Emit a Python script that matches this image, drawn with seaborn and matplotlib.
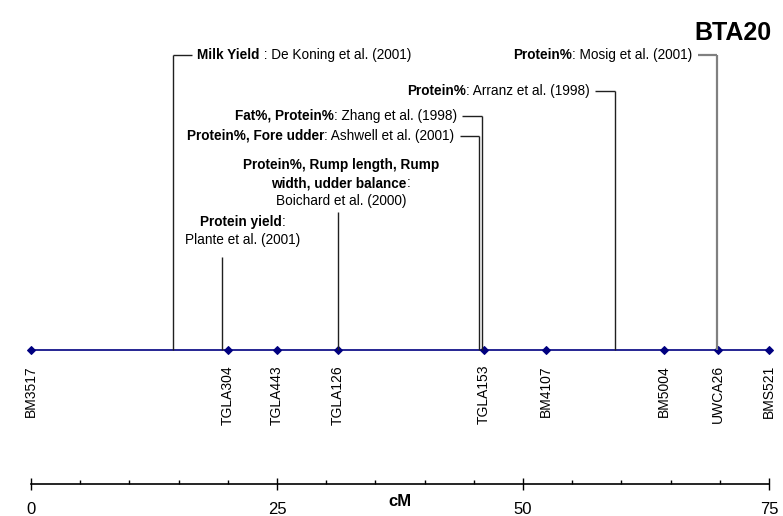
import textwrap

import matplotlib
matplotlib.use("Agg")
import matplotlib.pyplot as plt
import numpy as np
import pandas as pd
import seaborn as sns
from matplotlib.offsetbox import AnnotationBbox, HPacker, TextArea

# Microsatellite markers on the BTA20 linkage map (position in cM)
markers = ["BM3517", "TGLA304", "TGLA443", "TGLA126", "TGLA153",
           "BM4107", "BM5004", "UWCA26", "BMS521"]
marker_cM = [0.0, 20.0, 25.0, 31.2, 46.0, 52.3, 64.3, 69.8, 75.0]

# Reported QTL: trait(s), reference and map position (cM)
qtl_traits = ["Milk Yield", "Protein yield",
              "Protein%, Rump length, Rump width, udder balance",
              "Protein%, Fore udder", "Fat%, Protein%", "Protein%", "Protein%"]
qtl_refs = ["De Koning et al. (2001)", "Plante et al. (2001)",
            "Boichard et al. (2000)", "Ashwell et al. (2001)",
            "Zhang et al. (1998)", "Arranz et al. (1998)", "Mosig et al. (2001)"]
qtl_seps = [" : ", ": ", ": ", ": ", ": ", ": ", ": "]
qtl_cM = [14.4, 19.4, 31.2, 45.5, 45.8, 59.3, 69.7]

major_ticks = [0, 25, 50, 75]
minor_step = 5

# ---------------------------------------------------------------- layout
sns.set_theme(style="white")
plt.rcParams["font.family"] = ["Liberation Sans", "DejaVu Sans"]

W, H = 783, 516
fig = plt.figure(figsize=(W / 100, H / 100), dpi=100)
fig.patch.set_facecolor("white")
ax = fig.add_axes([31 / W, 0, 738 / W, 1])
ax.set_facecolor("white")

CHROM_Y = 350      # vertical level of the chromosome bar (pixel rows, top = 0)
RULER_Y = 484
LABEL_FS = 9.8
MARKER_FS = 10

# chromosome with marker positions
df = pd.DataFrame({"cM": marker_cM, "y": [CHROM_Y] * len(marker_cM), "marker": markers})
sns.lineplot(data=df, x="cM", y="y", ax=ax, sort=False, estimator=None,
             color="#000080", linewidth=1.2, marker="D", markersize=4.0,
             markeredgecolor="#000080", markerfacecolor="#000080")
for ln in ax.lines:
    ln.set_clip_on(False)

for name, x in zip(markers, marker_cM):
    ax.text(x, 365, name, rotation=90, ha="center", va="top",
            fontsize=MARKER_FS, color="black")


def rich_label(x, y, parts, align):
    """Place a run of bold / regular text pieces as one label."""
    boxes = [TextArea(t, textprops=dict(fontsize=LABEL_FS, color="black",
                                        fontweight="bold" if b else "normal"))
             for t, b in parts]
    pack = HPacker(children=boxes, align="baseline", pad=0, sep=0)
    ab = AnnotationBbox(pack, (x, y), xycoords="data", box_alignment=(align, 0.5),
                        frameon=False, pad=0, annotation_clip=False)
    ax.add_artist(ab)


# how each QTL label is set out: side of the connector or stacked above it
layout = [
    dict(kind="left", y=55),
    dict(kind="stack", y=222, dx=2.1, top=257, wrap=40),
    dict(kind="stack", y=165, dx=0.3, top=212, wrap=28),
    dict(kind="right", y=136),
    dict(kind="right", y=116),
    dict(kind="right", y=91),
    dict(kind="right", y=55, color="#808080", lw=1.6),
]

HOOK = 1.95   # connector length, cM
GAP = 2.5     # connector start to text, cM
LINE_STEP = 18

for trait, ref, sep, pos, lay in zip(qtl_traits, qtl_refs, qtl_seps, qtl_cM, layout):
    col = lay.get("color", "#202020")
    lw = lay.get("lw", 1.0)
    if lay["kind"] == "left":
        ax.vlines(pos, lay["y"], CHROM_Y, color=col, lw=lw)
        ax.hlines(lay["y"], pos, pos + HOOK, color=col, lw=lw)
        rich_label(pos + GAP, lay["y"], [(trait, True), (sep + ref, False)], 0)
    elif lay["kind"] == "right":
        ax.vlines(pos, lay["y"], CHROM_Y, color=col, lw=lw)
        ax.hlines(lay["y"], pos - HOOK, pos, color=col, lw=lw)
        rich_label(pos - GAP, lay["y"], [(trait, True), (sep + ref, False)], 1)
    else:
        ax.vlines(pos, lay["top"], CHROM_Y, color=col, lw=lw)
        lines = textwrap.wrap(trait, lay["wrap"])
        cx = pos + lay["dx"]
        for i, line in enumerate(lines):
            parts = [(line, True)]
            if i == len(lines) - 1:
                parts.append((sep.strip(), False))
            rich_label(cx, lay["y"] + i * LINE_STEP, parts, 0.5)
        rich_label(cx, lay["y"] + len(lines) * LINE_STEP, [(ref, False)], 0.5)

# ---------------------------------------------------------------- cM ruler
ax.set_xlim(0, 75)
ax.set_ylim(H, 0)
for s in ["left", "right", "top"]:
    ax.spines[s].set_visible(False)
ax.spines["bottom"].set_position(("data", RULER_Y))
ax.spines["bottom"].set_color("black")
ax.spines["bottom"].set_linewidth(1.2)
ax.set_xticks(major_ticks)
ax.set_xticklabels([str(t) for t in major_ticks])
ax.set_xticks(np.arange(0, 75 + minor_step, minor_step), minor=True)
ax.tick_params(axis="x", which="major", bottom=True, direction="inout", length=8,
               width=1, color="black", labelsize=12, labelcolor="black", pad=9)
ax.tick_params(axis="x", which="minor", bottom=True, direction="in", length=3,
               width=1, color="black")
ax.set_yticks([])
ax.set_xlabel("")
ax.set_ylabel("")
ax.grid(False)

ax.text(37.5, 501, "cM", ha="center", va="center", fontsize=12,
        fontweight="bold", color="black")

fig.text(772 / W, 1 - 33 / H, "BTA20", ha="right", va="center",
         fontsize=18, fontweight="bold", color="black")

fig.savefig("out.png", dpi=100)
